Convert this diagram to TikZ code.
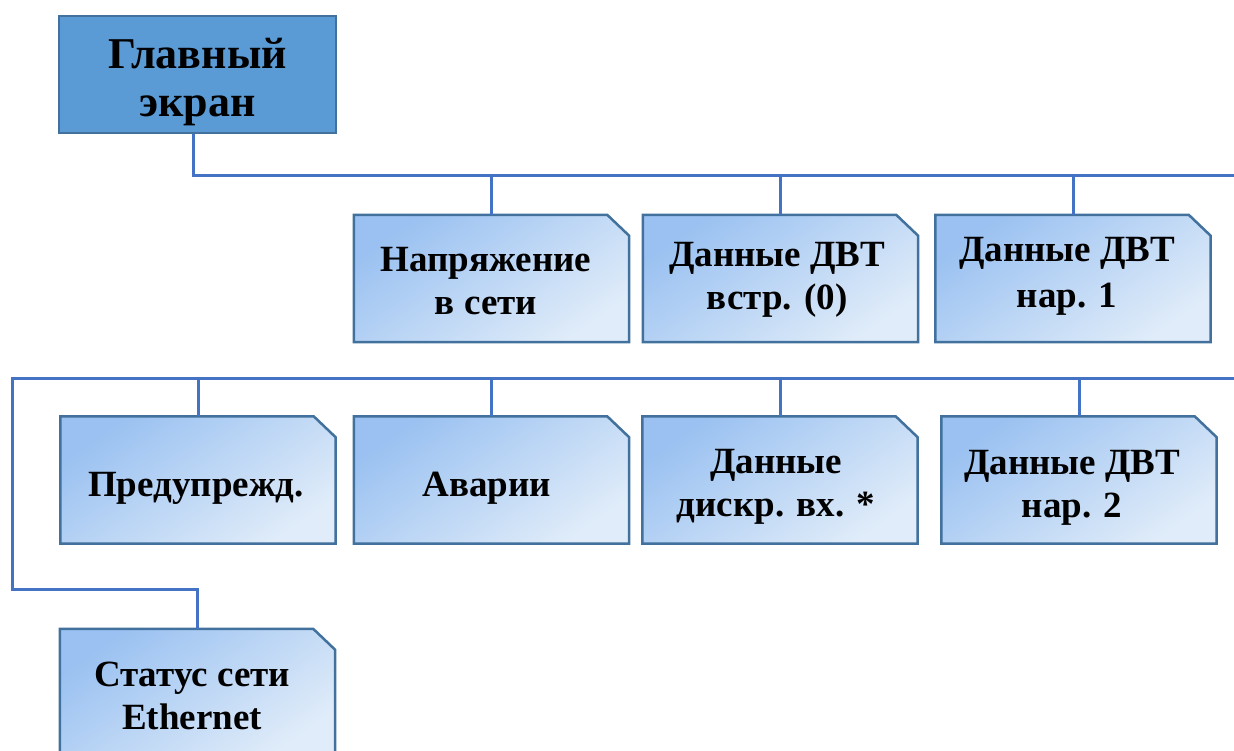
\documentclass[tikz,border=0pt]{standalone}
\usepackage{fontspec}
\setmainfont{Liberation Serif}[BoldFont={Liberation Serif Bold}]
\definecolor{mainfill}{HTML}{5B9BD5}
\definecolor{boxborder}{HTML}{41719C}
\definecolor{conncol}{HTML}{4472C4}
\definecolor{gradA}{HTML}{9AC1F1}
\definecolor{gradB}{HTML}{E0ECF9}
\tikzset{
  mainbox/.style={draw=boxborder, line width=2.5pt, fill=mainfill, rectangle,
    minimum width=277pt, minimum height=117pt, inner sep=0pt},
  anchorbox/.style={rectangle, minimum width=275pt, minimum height=127pt, inner sep=0pt},
  menushape/.style={draw=boxborder, line width=2.5pt, line join=miter,
    top color=gradA, bottom color=gradB, shading angle=35},
  txt/.style={font=\bfseries\fontsize{37}{43}\selectfont, align=center, inner sep=0pt},
  conn/.style={draw=conncol, line width=3pt}
}
\newcommand{\menubox}[2]{%
  \node[anchorbox] (#1) at (#2) {};
  \path[menushape] (#1.south west) -- (#1.north west) -- ([xshift=-22pt]#1.north east)
    -- ([yshift=-21pt]#1.north east) -- (#1.south east) -- cycle;
}
\begin{document}
\begin{tikzpicture}[x=1pt, y=-1pt]
\useasboundingbox (0,0) rectangle (1234,751);
% main
\node[mainbox] (main) at (197.5,74.5) {};
\node[txt, font=\bfseries\fontsize{44}{48}\selectfont] (tmain) at (197.5,82) {Главный\\экран};
% row 1
\menubox{b1}{491.5,278.5}
\menubox{b2}{780.5,278.5}
\menubox{b3}{1073,278.5}
\node[txt] (t1) at (486,281) {Напряжение\\в сети};
\node[txt] (t2) at (777,280) {Данные ДВТ\\встр. (0)};
\node[txt, font=\bfseries\fontsize{37}{46}\selectfont] (t3) at (1067,276) {Данные ДВТ\\нар. 1};
% row 2
\menubox{b4}{198,480}
\menubox{b5}{491.5,480}
\menubox{b6}{780,480}
\menubox{b7}{1079,480}
\node[txt] (t4) at (196,488) {Предупрежд.};
\node[txt] (t5) at (487,488) {Аварии};
\node[txt] (t6) at (776,487) {Данные\\дискр. вх. *};
\node[txt] (t7) at (1072,488) {Данные ДВТ\\нар. 2};
% row 3
\menubox{b8}{197.5,692.5}
\node[txt] (t8) at (192,695.5) {Статус сети\\Ethernet};
% connectors
\coordinate (r1) at (1234,176);
\coordinate (l2) at (12,378);
\coordinate (r2) at (1234,378);
\coordinate (k) at (12,589);
\draw[conn] ([xshift=-4.5pt]main.south) |- (r1);
\foreach \b in {b1,b2,b3} \draw[conn] (\b.north) -- (\b.north |- r1);
\draw[conn] (r2) -- (l2) -- (k) -| (b8.north);
\foreach \b in {b4,b5,b6,b7} \draw[conn] (\b.north) -- (\b.north |- l2);
\end{tikzpicture}
\end{document}
